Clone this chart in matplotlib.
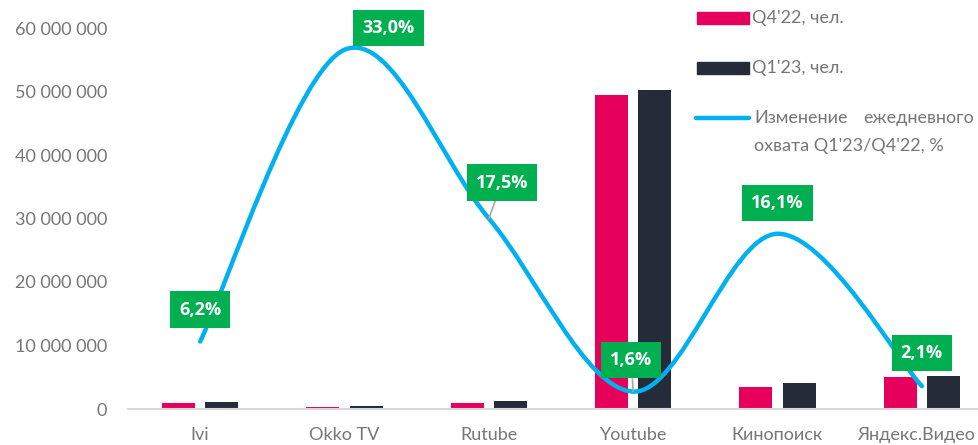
import matplotlib.pyplot as plt
from matplotlib.path import Path
from matplotlib.patches import PathPatch, Rectangle
from matplotlib.lines import Line2D
from matplotlib.ticker import FuncFormatter, MultipleLocator
from matplotlib.transforms import ScaledTranslation

# data
services = ['Ivi', 'Okko TV', 'Rutube', 'Youtube', 'Кинопоиск', 'Яндекс.Видео']
q4_22 = [1.0e6, 0.3e6, 1.0e6, 49.4e6, 3.5e6, 5.0e6]
q1_23 = [1.1e6, 0.45e6, 1.3e6, 50.2e6, 4.1e6, 5.2e6]
change_pct = [6.2, 33.0, 17.5, 1.6, 16.1, 2.1]
change_labels = ['6,2%', '33,0%', '17,5%', '1,6%', '16,1%', '2,1%']

PINK = '#E6005C'
NAVY = '#262B3A'
BLUE = '#00B0F0'
GREEN = '#00B050'
GREY = '#767676'

plt.rcParams['font.family'] = ['Lato', 'DejaVu Sans']

fig = plt.figure(figsize=(9.79, 4.45), dpi=100)
ax = fig.add_axes([128 / 979, 36 / 445, 866 / 979, 381 / 445])

x = list(range(len(services)))
w = 0.23
ax.bar([i - 0.15 for i in x], q4_22, width=w, color=PINK)
ax.bar([i + 0.15 for i in x], q1_23, width=w, color=NAVY)

ax.set_xlim(-0.5, 5.5)
ax.set_ylim(0, 60e6)
ax.yaxis.set_major_locator(MultipleLocator(10e6))
ax.yaxis.set_major_formatter(FuncFormatter(lambda v, p: f'{int(v):,}'.replace(',', ' ')))
ax.set_xticks(x)
ax.set_xticklabels(services)
ax.tick_params(axis='both', length=0, labelsize=13, colors=GREY)
ax.tick_params(axis='y', pad=15)
ax.tick_params(axis='x', pad=13)
# last label sits a little left so it stays inside the picture
last = ax.get_xticklabels()[-1]
last.set_transform(last.get_transform() + ScaledTranslation(-6 / 100, 0, fig.dpi_scale_trans))
for s in ['top', 'right', 'left']:
    ax.spines[s].set_visible(False)
ax.spines['bottom'].set_color('#D9D9D9')
ax.spines['bottom'].set_linewidth(1.5)

# percent change on a hidden second axis, smoothed like an Excel line
ax2 = ax.twinx()
ax2.set_ylim(0, 35)
ax2.axis('off')

pts = list(zip(x, change_pct))
verts = [pts[0]]
codes = [Path.MOVETO]
n = len(pts)
for i in range(n - 1):
    p0 = pts[max(i - 1, 0)]
    p1 = pts[i]
    p2 = pts[i + 1]
    p3 = pts[min(i + 2, n - 1)]
    c1 = (p1[0] + (p2[0] - p0[0]) / 6, p1[1] + (p2[1] - p0[1]) / 6)
    c2 = (p2[0] - (p3[0] - p1[0]) / 6, p2[1] - (p3[1] - p1[1]) / 6)
    verts += [c1, c2, p2]
    codes += [Path.CURVE4] * 3
ax2.add_patch(PathPatch(Path(verts, codes), facecolor='none', edgecolor=BLUE,
                        lw=3.2, capstyle='round', zorder=3))

# data labels (offsets in pixels)
offsets = [(0, 32), (44, 22), (13, 36), (-2, 32), (0, 31), (0, 33)]
leader = [False, False, True, True, False, False]
for i, (val, lab) in enumerate(zip(change_pct, change_labels)):
    arrow = dict(arrowstyle='-', color='#A6A6A6', lw=1.2, shrinkA=0, shrinkB=0) if leader[i] else None
    ax2.annotate(lab, (i, val), xytext=offsets[i], textcoords='offset pixels',
                 ha='center', va='center', fontsize=13, fontweight='bold',
                 color='white', family=['Open Sans', 'DejaVu Sans'],
                 bbox=dict(boxstyle='square,pad=0.5', fc=GREEN, ec='none'),
                 arrowprops=arrow, zorder=5, annotation_clip=False)

# legend drawn by hand in figure pixels
H = 445.0
def fy(y):
    return 1 - y / H

for y, color, text in [(18, PINK, "Q4'22, чел."), (68, NAVY, "Q1'23, чел.")]:
    fig.add_artist(Rectangle((697 / 979, fy(y + 6)), 52 / 979, 12 / H,
                             transform=fig.transFigure, color=color))
    fig.text(752 / 979, fy(y), text, fontsize=13, color=GREY, va='center')

fig.add_artist(Line2D([696 / 979, 749 / 979], [fy(118), fy(118)], transform=fig.transFigure,
                      color=BLUE, lw=3.2, solid_capstyle='round'))
fig.text(754 / 979, fy(118), 'Изменение', fontsize=13, color=GREY, va='center')
fig.text(974 / 979, fy(118), 'ежедневного', fontsize=13, color=GREY, va='center', ha='right')
fig.text(754 / 979, fy(146), "охвата Q1'23/Q4'22, %", fontsize=13, color=GREY, va='center')

fig.savefig('out.png', dpi=100)
